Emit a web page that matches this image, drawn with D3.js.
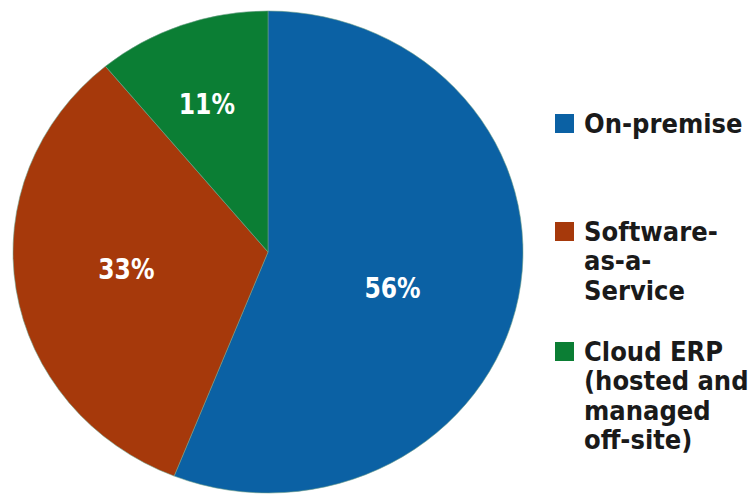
<!DOCTYPE html>
<html>
<head>
<meta charset="utf-8">
<script src="https://cdn.jsdelivr.net/npm/d3@7"></script>
<style>
  body { margin: 0; background: #fff; }
  svg { display: block; }
  text { font-family: "DejaVu Sans Condensed", "DejaVu Sans", sans-serif; font-weight: bold; }
</style>
</head>
<body>
<svg id="chart" width="749" height="495"></svg>
<script>
// Chart data
var categories = ["On-premise", "Software-as-a-Service", "Cloud ERP (hosted and managed off-site)"];
var values = [56, 33, 11];
var legendLines = [
    ["On-premise"],
    ["Software-", "as-a-", "Service"],
    ["Cloud ERP", "(hosted and", "managed", "off-site)"]
];
var colors = ["#0b61a4", "#a6390b", "#0b7e34"];

var svg = d3.select("#chart");

// Pie is slightly squashed (ellipse), so draw at radius rx and scale y
var cx = 268, cy = 252, rx = 255, ry = 241;

var pie = d3.pie().sort(null).value(function(d) { return d; });
var arcs = pie(values);

var arc = d3.arc().innerRadius(0).outerRadius(rx);

var g = svg.append("g")
    .attr("transform", `translate(${cx}, ${cy}) scale(1, ${ry / rx})`);

g.selectAll(".slice")
    .data(arcs)
    .join("path")
    .attr("class", "slice")
    .attr("fill", function(d, i) { return colors[i]; })
    .attr("stroke", "#6fa08a")
    .attr("stroke-width", 0.6)
    .attr("d", arc);

// Percentage labels, placed near each slice's mid angle
var labelRadius = [0.51, 0.56, 0.66];
var labelShift = [6, 1.8, -1.5]; // degrees
var labelPos = function(d, i) {
    var a = (d.startAngle + d.endAngle) / 2 + labelShift[i] * Math.PI / 180;
    var r = rx * labelRadius[i];
    return [cx + r * Math.sin(a), cy - r * Math.cos(a) * ry / rx];
};

svg.selectAll(".pct")
    .data(arcs)
    .join("text")
    .attr("class", "pct")
    .attr("transform", function(d, i) {
        var p = labelPos(d, i);
        return `translate(${p[0]}, ${p[1]}) scale(0.9, 1)`;
    })
    .attr("text-anchor", "middle")
    .attr("dominant-baseline", "central")
    .attr("fill", "#fff")
    .attr("font-size", 29)
    .text(function(d) { return d.value + "%"; });

// Legend
var legendY = [123, 231, 351];
var lineH = 29.5;

var legend = svg.selectAll(".legend")
    .data(categories)
    .join("g")
    .attr("class", "legend")
    .attr("transform", function(d, i) { return `translate(555, ${legendY[i]})`; });

legend.append("rect")
    .attr("x", 0)
    .attr("y", -9)
    .attr("width", 19)
    .attr("height", 19)
    .attr("fill", function(d, i) { return colors[i]; });

legend.selectAll("text")
    .data(function(d, i) { return legendLines[i]; })
    .join("text")
    .attr("x", 29)
    .attr("y", function(d, j) { return j * lineH; })
    .attr("dominant-baseline", "central")
    .attr("fill", "#1a1a1a")
    .attr("font-size", 27)
    .text(function(d) { return d; });
</script>
</body>
</html>
